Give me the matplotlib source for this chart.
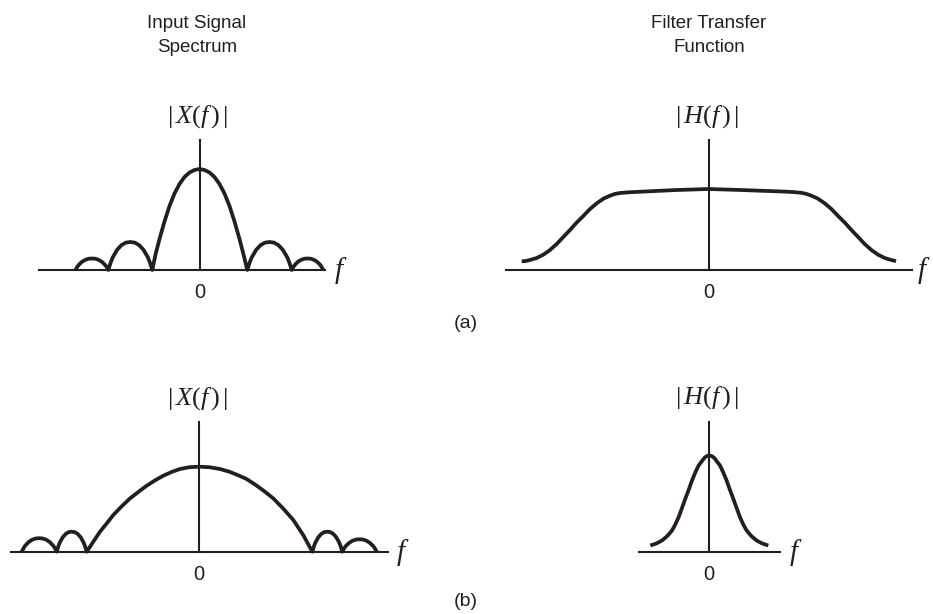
import matplotlib.pyplot as plt

plt.rcParams["mathtext.fontset"] = "custom"
plt.rcParams["mathtext.rm"] = "Liberation Serif"
plt.rcParams["mathtext.it"] = "Liberation Serif:italic"
plt.rcParams["mathtext.bf"] = "Liberation Serif:bold"
plt.rcParams["font.family"] = ["Liberation Sans", "DejaVu Sans"]

W, H = 933, 614
INK = "#231f20"

# (a) input spectrum |X(f)|: narrow main lobe, two side lobes each side
xa_f = [-1.240, -1.224, -1.207, -1.174, -1.141, -1.108, -1.076, -1.043, -1.010, -0.977, -0.945, -0.928, -0.912,
        -0.890, -0.868, -0.824, -0.780, -0.736, -0.692, -0.648, -0.604, -0.560, -0.516, -0.494, -0.472,
        -0.44, -0.40, -0.35, -0.30, -0.25, -0.20, -0.15, -0.10, -0.05, 0.0,
        0.05, 0.10, 0.15, 0.20, 0.25, 0.30, 0.35, 0.40, 0.44, 0.478,
        0.500, 0.522, 0.567, 0.611, 0.656, 0.700, 0.744, 0.789, 0.833, 0.878, 0.900, 0.922,
        0.938, 0.954, 0.985, 1.017, 1.049, 1.080, 1.112, 1.144, 1.175, 1.207, 1.222, 1.238]
xa_mag = [0, 0.029, 0.052, 0.083, 0.102, 0.113, 0.115, 0.113, 0.102, 0.083, 0.052, 0.029, 0,
          0.07, 0.126, 0.202, 0.249, 0.274, 0.280, 0.274, 0.249, 0.202, 0.126, 0.07, 0,
          0.155, 0.31, 0.485, 0.64, 0.765, 0.86, 0.93, 0.975, 1.0, 1.01,
          1.0, 0.975, 0.93, 0.86, 0.765, 0.64, 0.485, 0.31, 0.155, 0,
          0.07, 0.126, 0.202, 0.249, 0.274, 0.280, 0.274, 0.249, 0.202, 0.126, 0.07, 0,
          0.029, 0.052, 0.083, 0.102, 0.113, 0.115, 0.113, 0.102, 0.083, 0.052, 0.029, 0]

# (a) filter |H(f)|: wide, nearly flat passband
ha_f = [-1.87, -1.83, -1.787, -1.72, -1.654, -1.587, -1.52, -1.454, -1.387, -1.32, -1.254, -1.187,
        -1.12, -1.05, -0.987, -0.94, -0.887, -0.80, -0.72, -0.654, -0.32, 0.0,
        0.32, 0.65, 0.76, 0.85, 0.927, 0.98, 1.027, 1.09, 1.16, 1.227, 1.294, 1.36, 1.427, 1.494,
        1.56, 1.627, 1.694, 1.76, 1.827, 1.873]
ha_mag = [0.087, 0.09, 0.10, 0.12, 0.153, 0.20, 0.26, 0.33, 0.40, 0.475, 0.54, 0.61,
          0.667, 0.715, 0.743, 0.76, 0.77, 0.777, 0.781, 0.784, 0.80, 0.81,
          0.80, 0.788, 0.784, 0.779, 0.772, 0.76, 0.743, 0.715, 0.667, 0.61, 0.54, 0.475, 0.40, 0.33,
          0.26, 0.20, 0.153, 0.12, 0.10, 0.088]

# (b) input spectrum |X(f)|: wide main lobe
xb_f = [-1.776, -1.758, -1.741, -1.706, -1.671, -1.636, -1.601, -1.566, -1.531, -1.496, -1.461, -1.443, -1.426,
        -1.411, -1.396, -1.366, -1.336, -1.306, -1.276, -1.246, -1.216, -1.186, -1.156, -1.141, -1.126,
        -1.06, -0.993, -0.92, -0.86, -0.78, -0.693, -0.6, -0.526, -0.44, -0.36, -0.27, -0.193, -0.1, 0.0,
        0.1, 0.207, 0.3, 0.38, 0.473, 0.56, 0.65, 0.74, 0.84, 0.94, 1.04, 1.13,
        1.145, 1.16, 1.19, 1.22, 1.25, 1.28, 1.31, 1.34, 1.37, 1.40, 1.415, 1.43,
        1.447, 1.464, 1.499, 1.533, 1.568, 1.602, 1.636, 1.671, 1.705, 1.740, 1.757, 1.774]
xb_mag = [0, 0.034, 0.061, 0.097, 0.12, 0.132, 0.135, 0.132, 0.12, 0.097, 0.061, 0.034, 0,
          0.05, 0.09, 0.144, 0.178, 0.196, 0.20, 0.196, 0.178, 0.144, 0.09, 0.05, 0,
          0.10, 0.20, 0.29, 0.367, 0.45, 0.533, 0.605, 0.66, 0.715, 0.76, 0.80, 0.827, 0.845, 0.85,
          0.845, 0.827, 0.80, 0.768, 0.727, 0.67, 0.605, 0.533, 0.43, 0.317, 0.165, 0,
          0.05, 0.09, 0.144, 0.178, 0.196, 0.20, 0.196, 0.178, 0.144, 0.09, 0.05, 0,
          0.031, 0.056, 0.089, 0.11, 0.122, 0.124, 0.122, 0.11, 0.089, 0.056, 0.031, 0]

# (b) filter |H(f)|: narrow bell
hb_f = [-0.59, -0.53, -0.473, -0.42, -0.373, -0.34, -0.307, -0.275, -0.24, -0.205, -0.173, -0.14, -0.107, -0.05,
        -0.025, 0.0, 0.025,
        0.05, 0.107, 0.14, 0.173, 0.205, 0.24, 0.275, 0.307, 0.34, 0.373, 0.42, 0.473, 0.53, 0.59]
hb_mag = [0.06, 0.08, 0.11, 0.155, 0.21, 0.27, 0.343, 0.43, 0.527, 0.62, 0.71, 0.79, 0.86, 0.935,
          0.954, 0.96, 0.954,
          0.935, 0.86, 0.79, 0.71, 0.62, 0.527, 0.43, 0.343, 0.27, 0.21, 0.155, 0.11, 0.08, 0.06]

# frequency-axis extents (same units as f)
xa_axis = (-1.605, 1.255)
ha_axis = (-2.027, 2.03)
xb_axis = (-1.883, 1.887)
hb_axis = (-0.70, 0.707)


def panel(fig, cx, base, f, mag, axis, label, f_label_x):
    # one unit = 100 px in both directions, origin at (cx, base)
    ax = fig.add_axes([(cx - 250) / W, (H - (base + 40)) / H, 500 / W, 210 / H])
    ax.set_xlim(-2.5, 2.5)
    ax.set_ylim(-0.4, 1.7)
    ax.axis("off")
    ax.patch.set_alpha(0)
    ax.plot(list(axis), [0, 0], color=INK, lw=1.5, clip_on=False)
    ax.plot([0, 0], [0, 1.30], color=INK, lw=1.5, clip_on=False)
    ax.plot(f, mag, color=INK, lw=2.7, solid_joinstyle="round", solid_capstyle="butt", clip_on=False)
    ax.text(0, -0.225, "0", ha="center", va="center", fontsize=14.5, color=INK)
    ax.text(f_label_x, -0.01, "$f$", ha="center", va="center", fontsize=21, color=INK)
    ax.text(-0.02, 1.535, label, ha="center", va="center", fontsize=19, color=INK)
    return ax


fig = plt.figure(figsize=(W / 100, H / 100), dpi=100)

panel(fig, 199.5, 270, xa_f, xa_mag, xa_axis, r"$|\,X(f\,)\,|$", 1.41)
panel(fig, 708.7, 270, ha_f, ha_mag, ha_axis, r"$|\,H(f\,)\,|$", 2.15)
panel(fig, 199.3, 551.7, xb_f, xb_mag, xb_axis, r"$|\,X(f\,)\,|$", 2.03)
panel(fig, 709.3, 551.5, hb_f, hb_mag, hb_axis, r"$|\,H(f\,)\,|$", 0.86)

for x, lines in [(197, ["Input Signal", "Spectrum"]), (709, ["Filter Transfer", "Function"])]:
    for y, s in zip([23, 48], lines):
        fig.text(x / W, 1 - y / H, s, ha="center", va="center", fontsize=13.5, color=INK)

fig.text(466 / W, 1 - 324 / H, "(a)", ha="center", va="center", fontsize=14, color=INK)
fig.text(466 / W, 1 - 602 / H, "(b)", ha="center", va="center", fontsize=14, color=INK)

fig.savefig("out.png", dpi=100)
